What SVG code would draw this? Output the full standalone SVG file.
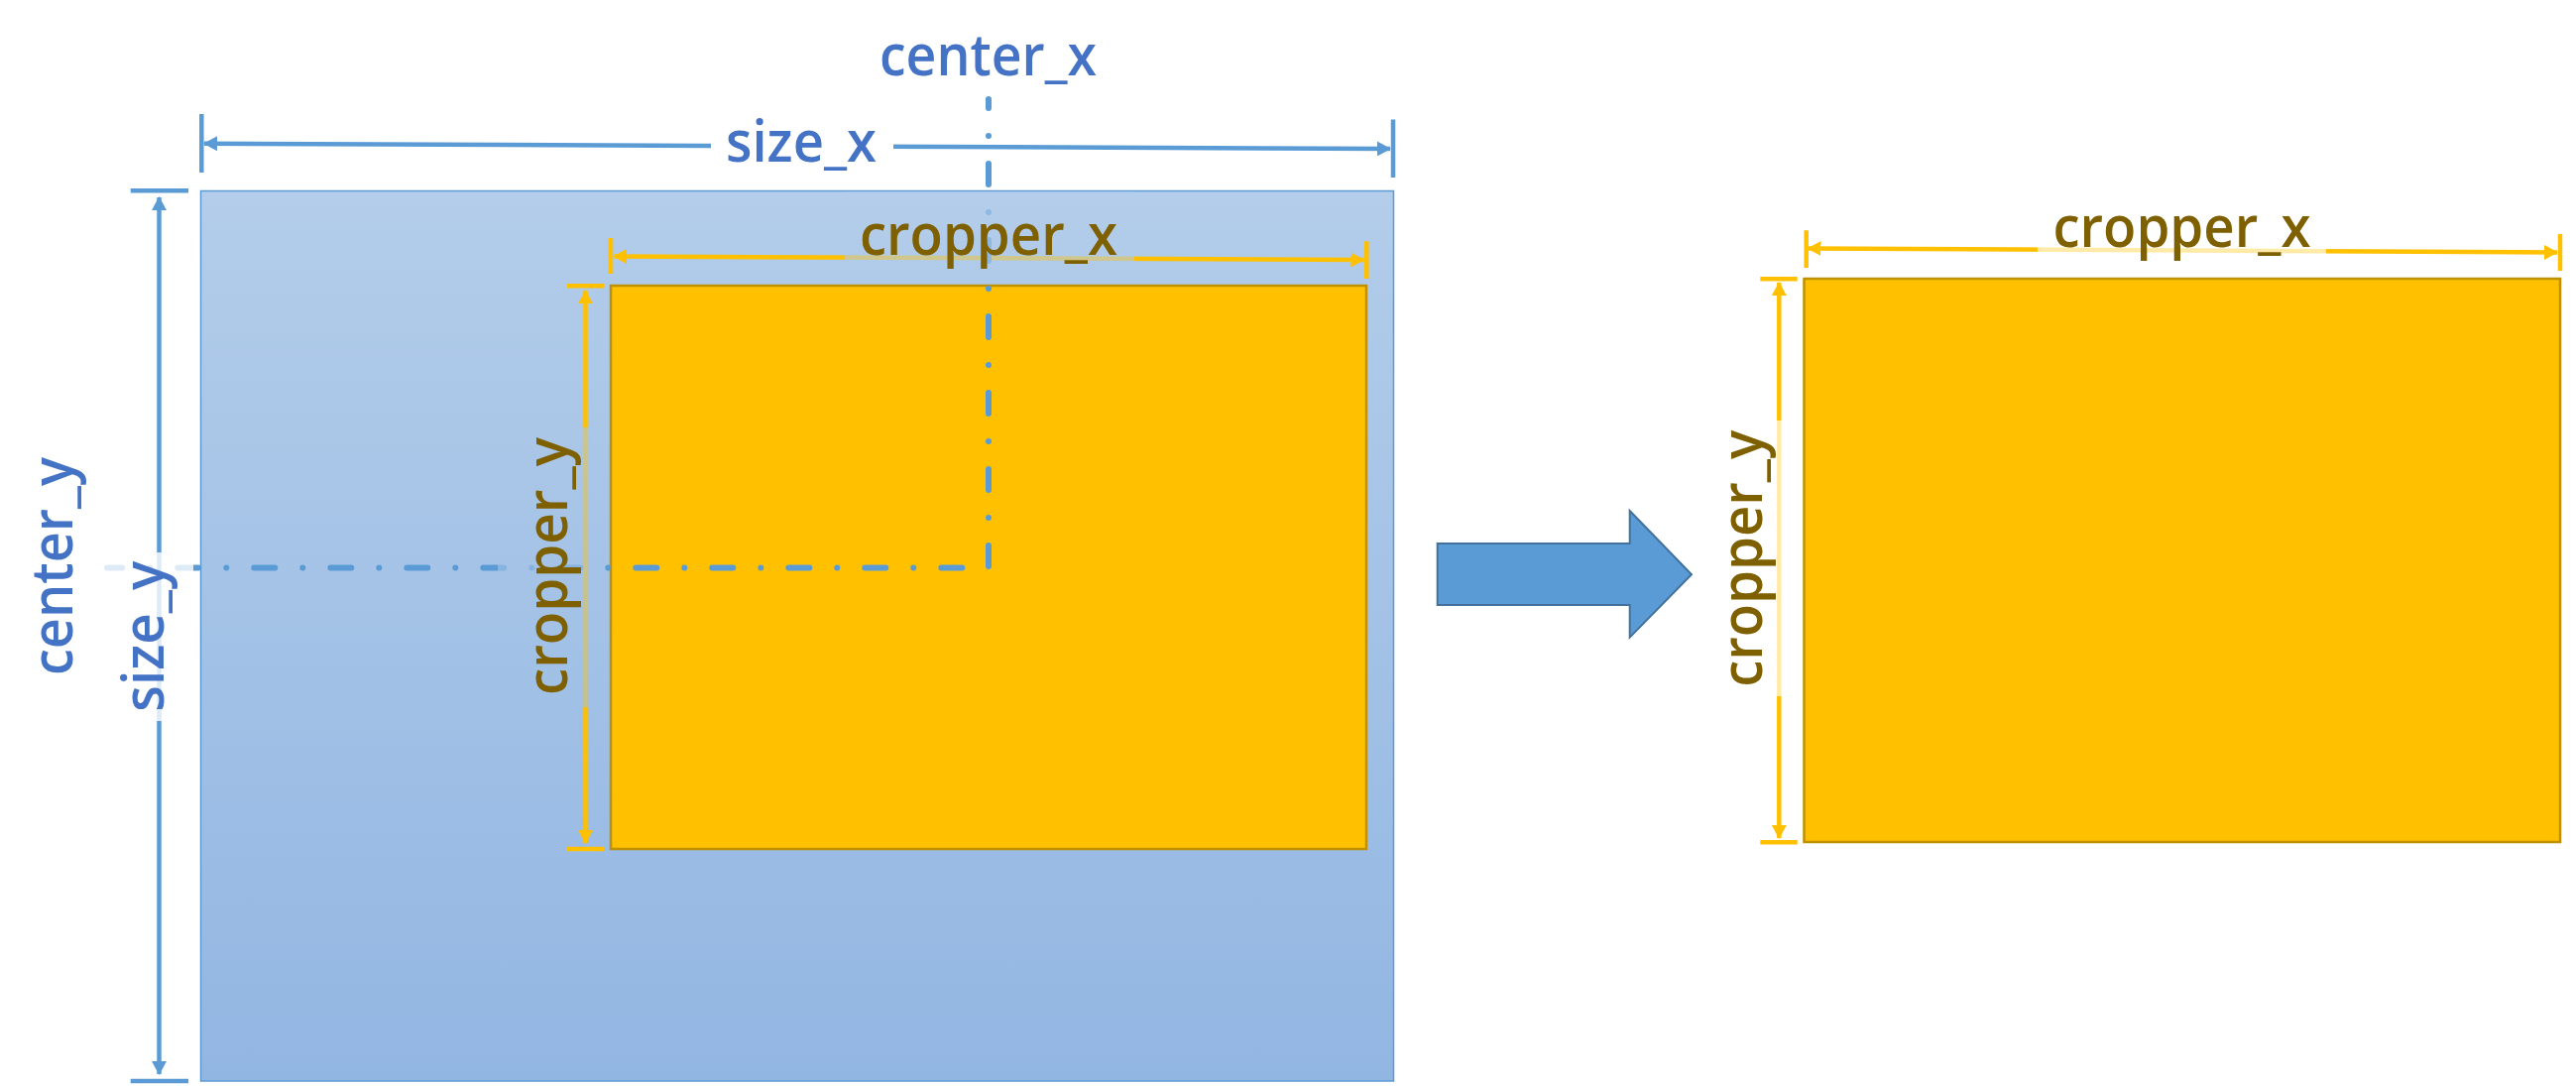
<svg xmlns="http://www.w3.org/2000/svg" width="2598" height="1095" viewBox="0 0 2598 1095">
<defs>
<linearGradient id="bg" gradientUnits="userSpaceOnUse" x1="0" y1="192" x2="0" y2="1090">
<stop offset="0" stop-color="#B3CDEA"/>
<stop offset="1" stop-color="#92B6E2"/>
</linearGradient>
<marker id="ab" markerUnits="userSpaceOnUse" markerWidth="14" markerHeight="15" refX="13" refY="7.5" orient="auto-start-reverse" viewBox="0 0 14 15">
<path d="M0,0 L14,7.5 L0,15 z" fill="#5B9BD5"/>
</marker>
<marker id="ao" markerUnits="userSpaceOnUse" markerWidth="14" markerHeight="15" refX="13" refY="7.5" orient="auto-start-reverse" viewBox="0 0 14 15">
<path d="M0,0 L14,7.5 L0,15 z" fill="#FFC000"/>
</marker>
<style>
.dimb{stroke:#5B9BD5;stroke-width:4.5;fill:none}
.dimo{stroke:#FFC000;stroke-width:4.5;fill:none}
.dd{stroke:#5B9BD5;stroke-width:6;stroke-linecap:round;stroke-dasharray:21 28 0 28;fill:none}
.crop{fill:#FFC000;stroke:#BF9000;stroke-width:2.5}
.lb{font-family:"Open Sans","Noto Sans","Liberation Sans",sans-serif;font-size:58px;font-weight:600;text-anchor:middle}
.tb{fill:#4472C4}
.tg{fill:#7F6000}
</style>
</defs>

<g id="source-image">
<rect x="202.5" y="192.5" width="1203" height="897.5" fill="url(#bg)" stroke="#5B9BD5" stroke-width="1.5"/>
</g>
<g id="crop-region">
<rect class="crop" x="616" y="288" width="762" height="568"/>
</g>
<g id="result-crop">
<rect class="crop" x="1819.5" y="281" width="762.5" height="568"/>
</g>
<g id="transform-arrow">
<polygon points="1449.7,548 1643.7,548 1643.7,515 1706,579.3 1643.7,642.6 1643.7,610 1449.7,610" fill="#5B9BD5" stroke="#41719C" stroke-width="2"/>
</g>

<g id="connectors">
<!-- size_x -->
<path class="dimb" d="M206,144.7 L1402,150" marker-start="url(#ab)" marker-end="url(#ab)"/>
<path class="dimb" d="M203.3,115 V174 M1405,120.5 V179"/>
<!-- size_y -->
<path class="dimb" d="M160.5,199 V1083" marker-start="url(#ab)" marker-end="url(#ab)"/>
<path class="dimb" d="M131.7,192.3 H190 M131.7,1090 H190"/>
<!-- cropper_x left -->
<path class="dimo" d="M619,258.5 L1375.5,262" marker-start="url(#ao)" marker-end="url(#ao)"/>
<path class="dimo" d="M616,240 V276 M1378.3,243.3 V281"/>
<!-- cropper_y left -->
<path class="dimo" d="M590.5,293.3 V850" marker-start="url(#ao)" marker-end="url(#ao)"/>
<path class="dimo" d="M572,288.3 H609.3 M572,856 H609.3"/>
<!-- cropper_x right -->
<path class="dimo" d="M1823.5,250.5 L2579,254.5" marker-start="url(#ao)" marker-end="url(#ao)"/>
<path class="dimo" d="M1821.7,232.3 V270 M2582,236 V273"/>
<!-- cropper_y right -->
<path class="dimo" d="M1794.3,285 V845" marker-start="url(#ao)" marker-end="url(#ao)"/>
<path class="dimo" d="M1775.3,281.3 H1812.7 M1775.3,849.3 H1812.7"/>
<!-- center dash-dot -->
<path class="dd" d="M108,572.5 H970.3" stroke-dashoffset="5.7"/>
<path class="dd" d="M997,571 V100"/>
</g>

<g id="label-boxes">
<rect x="717" y="122" width="184" height="52" fill="#FFFFFF"/>
<rect x="852" y="193.5" width="292" height="82" fill="url(#bg)" opacity="0.6"/>
<rect x="502" y="431" width="101" height="282" fill="url(#bg)" opacity="0.6"/>
<rect x="105" y="557" width="90" height="170" fill="#FFFFFF" opacity="0.8"/>
<rect x="2055" y="195" width="291" height="75" fill="#FFFFFF" opacity="0.66"/>
<rect x="1707" y="424" width="101" height="278" fill="#FFFFFF" opacity="0.66"/>
</g>

<g id="labels">
<text id="label-center-x" class="lb tb" x="996.5" y="76" textLength="219" lengthAdjust="spacingAndGlyphs">center_x</text>
<text id="label-size-x" class="lb tb" x="808" y="163.3" textLength="152" lengthAdjust="spacingAndGlyphs">size_x</text>
<text id="label-cropper-x-left" class="lb tg" x="997" y="256.7" textLength="260" lengthAdjust="spacingAndGlyphs">cropper_x</text>
<text id="label-cropper-x-right" class="lb tg" x="2200.5" y="249.3" textLength="260" lengthAdjust="spacingAndGlyphs">cropper_x</text>
<text id="label-center-y" class="lb tb" transform="translate(73.3,571) rotate(-90)" textLength="220" lengthAdjust="spacingAndGlyphs">center_y</text>
<text id="label-size-y" class="lb tb" transform="translate(165,641.7) rotate(-90)" textLength="152" lengthAdjust="spacingAndGlyphs">size_y</text>
<text id="label-cropper-y-left" class="lb tg" transform="translate(571.7,571) rotate(-90)" textLength="260" lengthAdjust="spacingAndGlyphs">cropper_y</text>
<text id="label-cropper-y-right" class="lb tg" transform="translate(1776.7,563.3) rotate(-90)" textLength="259" lengthAdjust="spacingAndGlyphs">cropper_y</text>
</g>
</svg>
